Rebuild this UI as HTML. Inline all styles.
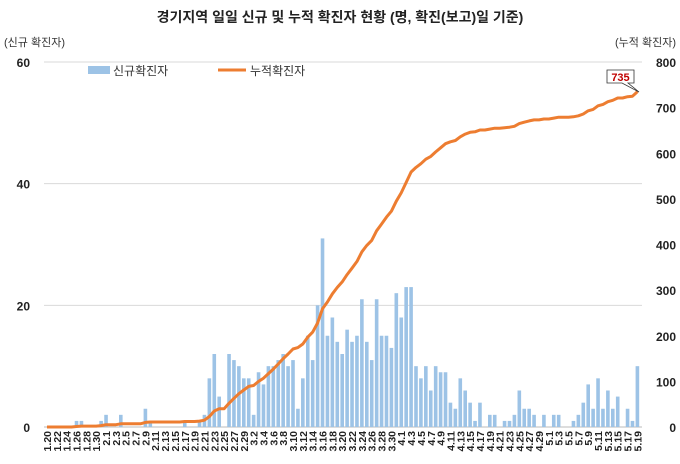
<!DOCTYPE html>
<html><head><meta charset="utf-8"><style>
body{margin:0;background:#fff;}
svg{display:block;font-family:"Liberation Sans","Noto Sans CJK KR",sans-serif;}
</style></head><body>
<svg width="680" height="464" viewBox="0 0 680 464">
<text x="340" y="22" text-anchor="middle" font-size="14" font-weight="bold" fill="#222">경기지역 일일 신규 및 누적 확진자 현황 (명, 확진(보고)일 기준)</text>
<text x="4" y="46" font-size="11" fill="#333">(신규 확진자)</text>
<text x="676" y="46" font-size="11" fill="#333" text-anchor="end">(누적 확진자)</text>
<g id="grid"></g><g id="bars"></g><g id="line"></g><g id="axes"></g>
<g>
<rect x="88" y="66" width="22" height="8" fill="#9dc3e6"/>
<text x="113" y="75" font-size="12" fill="#333">신규확진자</text>
<line x1="218" y1="70" x2="246" y2="70" stroke="#ed7d31" stroke-width="3"/>
<text x="250" y="75" font-size="12" fill="#333">누적확진자</text>
</g>
<g>
<polygon points="607,70 634,70 634,83 628,83 639,92 622,83 607,83" fill="#fff" stroke="#333" stroke-width="0.8"/>
<text x="620.5" y="81" font-size="11" font-weight="bold" fill="#c00000" text-anchor="middle">735</text>
</g>
</svg>
<script>
const daily=[0,0,0,0,0,0,1,1,0,0,0,1,2,0,0,2,0,0,0,0,3,1,0,0,0,0,0,0,1,0,0,1,2,8,12,5,0,12,11,10,8,8,2,9,7,10,10,11,12,10,11,3,8,15,11,20,31,15,18,14,12,16,14,15,21,14,11,21,15,15,13,22,18,23,23,10,8,10,6,10,9,9,4,3,8,6,4,1,4,0,2,2,0,1,1,2,6,3,3,2,0,2,0,2,2,0,0,1,2,4,7,3,8,3,6,3,5,0,3,1,10];
const leftTicks=[0,20,40,60];
const rightTicks=[0,100,200,300,400,500,600,700,800];
const NS="http://www.w3.org/2000/svg";
const x0=47,step=4.92,yb=427,yt=62;
const xS=i=>x0+i*step;
const yL=v=>yb-(v/60)*(yb-yt);
const yR=v=>yb-(v/800)*(yb-yt);
function mk(t,a,p){const e=document.createElementNS(NS,t);for(const k in a)e.setAttribute(k,a[k]);p.appendChild(e);return e;}
const grid=document.getElementById('grid'),bars=document.getElementById('bars'),line=document.getElementById('line'),axes=document.getElementById('axes');
leftTicks.forEach(v=>{
 const g=mk('line',{x1:44,x2:642,y1:yL(v),y2:yL(v),stroke:v===0?'#bbb':'#d9d9d9','stroke-width':1},grid);
 
 
 const t=mk('text',{x:30,y:yL(v)+5,'font-size':12,'font-weight':'bold','text-anchor':'end',fill:'#222'},axes);t.textContent=v;
 
 
});
rightTicks.forEach(v=>{
 const t=mk('text',{x:676,y:yR(v)+5,'font-size':12,'font-weight':'bold','text-anchor':'end',fill:'#222'},axes);t.textContent=v;
 
 
});
daily.forEach((v,i)=>{
 if(v>0){const r=mk('rect',{x:xS(i)-1.8,y:yL(v),width:3.6,height:yb-yL(v),fill:'#9dc3e6'},bars);
 
 }
 if(i%2===0){
  const d=new Date(2020,0,20+i);const lab=(d.getMonth()+1)+'.'+d.getDate();
  const t=mk('text',{transform:`translate(${xS(i)+4},431) rotate(-90)`,'font-size':10.5,'font-weight':'bold','text-anchor':'end',fill:'#222'},axes);t.textContent=lab;
  
  
 }
});
let c=0;const pts=daily.map((v,i)=>{c+=v;return xS(i).toFixed(1)+','+yR(c).toFixed(1);});
const pl=mk('polyline',{points:pts.join(' '),fill:'none',stroke:'#ed7d31','stroke-width':3,'stroke-linejoin':'round'},line);


</script>
</body></html>
